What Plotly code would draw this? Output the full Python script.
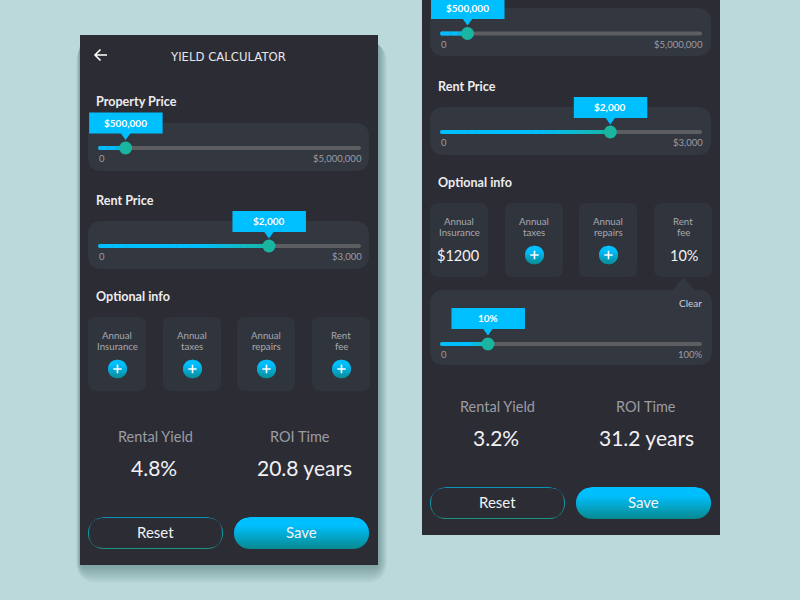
import math
import plotly.graph_objects as go

# ---- values ----
slider_labels = ["$500,000", "$2,000", "$500,000", "$2,000", "10%"]
slider_max_labels = ["$5,000,000", "$3,000", "$5,000,000", "$3,000", "100%"]
slider_fractions = [0.105, 0.65, 0.105, 0.65, 0.183]
card_titles = [("Annual", "Insurance"), ("Annual", "taxes"), ("Annual", "repairs"), ("Rent", "fee")]
left_results = ["4.8%", "20.8 years"]
right_results = ["3.2%", "31.2 years"]
result_titles = ["Rental Yield", "ROI Time"]
right_card_values = ["$1200", None, None, "10%"]

BG = "#BBD8DA"; PANEL = "#2C2C35"; SUB = "#333740"; CARD = "#30343D"
CYAN = "#00BFFF"; TEAL = "#1AB5A0"; TRACK = "#5C5E62"
GREY = "#9C9CA3"; LIGHT = "#A9A9B0"; WHITE = "#F2F2F4"
LATO = "Lato"

shapes, annos = [], []


def rrect(x0, y0, x1, y1, r):
    return (f"M{x0+r},{y0} L{x1-r},{y0} Q{x1},{y0} {x1},{y0+r} L{x1},{y1-r} Q{x1},{y1} {x1-r},{y1} "
            f"L{x0+r},{y1} Q{x0},{y1} {x0},{y1-r} L{x0},{y0+r} Q{x0},{y0} {x0+r},{y0} Z")


def path(d, color, opacity=1):
    shapes.append(dict(type="path", xref="x", yref="y", path=d, fillcolor=color, opacity=opacity,
                       line=dict(width=0), layer="below"))


def box(x0, y0, x1, y1, r, color, opacity=1):
    path(rrect(x0, y0, x1, y1, r), color, opacity)


def mix(a, b, t):
    ca = [int(a[i:i+2], 16) for i in (1, 3, 5)]
    cb = [int(b[i:i+2], 16) for i in (1, 3, 5)]
    return "#" + "".join(f"{round(p + (q - p) * t):02x}" for p, q in zip(ca, cb))


def gradient_pill(x0, y0, x1, y1, r, top, bottom):
    """Rounded shape filled top to bottom, as one-pixel trapezoids."""
    def inset(y):
        d = max(r - (y - y0), r - (y1 - y), 0)
        return r - math.sqrt(max(r * r - d * d, 0))
    n = int(round(y1 - y0))
    for k in range(n):
        a = y0 + k; b = a + 1
        c = mix(top, bottom, max(0, (k / (n - 1) - 0.25) / 0.75))
        ov = min(b + 0.4, y1)
        path(f"M{x0+inset(a):.2f},{a} L{x1-inset(a):.2f},{a} L{x1-inset(ov):.2f},{ov} L{x0+inset(ov):.2f},{ov} Z", c)


def text(x, y, s, size, color=WHITE, anchor="center", weight=400, family=LATO):
    dx = {"left": -2, "right": 2, "center": 0}[anchor]
    annos.append(dict(x=x + dx, y=y - 0.8, xref="x", yref="y", text=s, showarrow=False, xanchor=anchor, yanchor="middle",
                      font=dict(family=family, size=size, color=color, weight=weight)))


knob_x, knob_y = [], []


def slider(idx, x0, x1, y, label_y, zero_x):
    frac = slider_fractions[idx]
    kx = x0 + frac * (x1 - x0)
    box(x0, y - 2, x1, y + 2, 2, TRACK)
    steps = 24
    for i in range(steps):
        a = x0 + (kx - x0) * i / steps
        b = x0 + (kx - x0) * (i + 1) / steps + 0.3
        t = max(0, (i / steps - 0.55) / 0.45) if idx in (1, 3) else max(0, (i / steps - 0.6) / 0.4)
        if i == 0:
            box(a, y - 2, b + 2, y + 2, 2, mix(CYAN, TEAL, t))
        else:
            box(a, y - 2, b, y + 2, 0, mix(CYAN, TEAL, t))
    knob_x.append(kx); knob_y.append(y)
    bx0 = kx - 36.5
    box(bx0, label_y - 10.5, bx0 + 73.5, label_y + 10.5, 0, CYAN)
    path(f"M{kx-5},{label_y+10} L{kx+5},{label_y+10} L{kx},{label_y+17} Z", CYAN)
    text(kx, label_y + 0.5, slider_labels[idx], 10, "#FFFFFF", weight=700)
    text(zero_x, y + 11.5, "0", 9.5, GREY, "left")
    text(x1 + 0.5, y + 11.5, slider_max_labels[idx], 9.5, GREY, "right")


def plus(cx, cy):
    gradient_pill(cx - 9.5, cy - 9.5, cx + 9.5, cy + 9.5, 9.5, CYAN, "#0A8C96")
    box(cx - 4.2, cy - 0.8, cx + 4.2, cy + 0.8, 0, "#FFFFFF")
    box(cx - 0.8, cy - 4.2, cx + 0.8, cy + 4.2, 0, "#FFFFFF")


def card(x0, y0, i, value=None):
    box(x0, y0, x0 + 58, y0 + 74, 8, CARD)
    cx = x0 + 29
    text(cx, y0 + 18.5, card_titles[i][0], 9.7, LIGHT)
    text(cx, y0 + 29.5, card_titles[i][1], 9.7, LIGHT)
    if value is None:
        plus(x0 + 29.5, y0 + 52)
    else:
        text(cx + 0.5 if i else cx - 1, y0 + 53, value, 14.5, WHITE)


def bottom(x, y_title, y_val, y_btn, vals, xvals):
    text(xvals[0], y_title, result_titles[0], 14.5, GREY)
    text(xvals[1], y_title, result_titles[1], 14.5, GREY)
    text(xvals[2], y_val, vals[0], 21, WHITE)
    text(xvals[3], y_val, vals[1], 21, WHITE)
    gradient_pill(x, y_btn, x + 135, y_btn + 32, 16, "#0C94B4", "#1C9482")
    box(x + 1, y_btn + 1, x + 134, y_btn + 31, 15, PANEL)
    text(x + 67.5, y_btn + 16, "Reset", 15, WHITE)
    gradient_pill(x + 146, y_btn, x + 281, y_btn + 32, 16, CYAN, "#078A90")
    text(x + 213.5, y_btn + 16, "Save", 15, WHITE)


# soft shadow of the left phone
for o in range(18, 0, -1):
    box(80 - o * 0.2, 42, 378 + o * 0.5, 565 + o * 1.0, 4 + o, "#3C5458", 0.022)

# left phone
box(80, 35, 378, 565, 0, PANEL)
text(228, 58, "YIELD CALCULATOR", 11.7, "#E6E6E8", family="DejaVu Sans")
shapes.append(dict(type="path", xref="x", yref="y", layer="below", line=dict(color="#FFFFFF", width=1.6),
                   path="M107,55 L95,55 M100.5,49.5 L95,55 L100.5,60.5"))
text(96, 102.7, "Property Price", 12.6, "#EDEDEF", "left", 700)
box(88, 123, 369, 171, 14, SUB)
slider(0, 98, 361, 148, 123, 99)
text(96, 201.2, "Rent Price", 12.6, "#EDEDEF", "left", 700)
box(88, 221, 369, 269, 14, SUB)
slider(1, 98, 361, 246, 221.5, 99)
text(96, 297.5, "Optional info", 12.6, "#EDEDEF", "left", 700)
for i, x0 in enumerate([88, 163, 237, 312]):
    card(x0, 317, i)
bottom(88, 437, 468, 517, left_results, [155, 300, 154, 304])

# right phone
box(422, 0, 720, 535, 0, PANEL)
box(430, 8, 711, 56, 14, SUB)
slider(2, 440, 702, 33.5, 8.5, 441)
text(438, 87.2, "Rent Price", 12.6, "#EDEDEF", "left", 700)
box(430, 107, 711, 155, 14, SUB)
slider(3, 440, 702, 132, 107.5, 441)
text(438, 183.5, "Optional info", 12.6, "#EDEDEF", "left", 700)
for i, x0 in enumerate([430, 505, 579, 654]):
    card(x0, 203, i, right_card_values[i])
path("M672,291 L683.5,277 L695,291 Z", SUB)
box(430, 290, 712, 365, 14, SUB)
text(701.5, 303.5, "Clear", 10, "#D0D0D4", "right")
slider(4, 440, 702, 344, 318.5, 441)
bottom(430, 407, 438, 487, right_results, [497, 646, 496, 646])

fig = go.Figure()
fig.add_trace(go.Scatter(x=knob_x, y=knob_y, mode="markers", hoverinfo="skip", showlegend=False,
                         marker=dict(size=13, color=TEAL, line=dict(width=0))))
fig.update_layout(
    width=800, height=600, autosize=False, margin=dict(l=0, r=0, t=0, b=0, pad=0),
    paper_bgcolor=BG, plot_bgcolor=BG, shapes=shapes, annotations=annos, showlegend=False,
    xaxis=dict(range=[0, 800], visible=False, fixedrange=True),
    yaxis=dict(range=[600, 0], visible=False, fixedrange=True),
)
fig.write_html("out.html", config=dict(displayModeBar=False, staticPlot=True),
               post_script="document.body.style.margin='0';document.body.style.background='%s';" % BG)
